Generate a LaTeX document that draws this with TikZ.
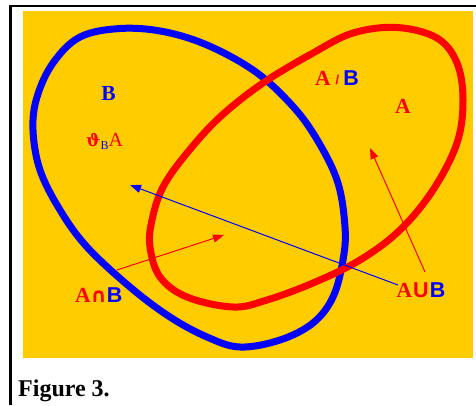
\documentclass[tikz,border=0pt]{standalone}
\usepackage{fontspec}
\setmainfont{Liberation Serif}
\newfontfamily\arialfont{Liberation Sans}
\newfontfamily\djsans{DejaVu Sans}
\newfontfamily\djserif{DejaVu Serif}
\usetikzlibrary{arrows.meta}
\definecolor{bgyellow}{HTML}{FFCC00}
\definecolor{cred}{HTML}{FF0000}
\definecolor{cblue}{HTML}{0000FF}
\tikzset{
  setline/.style={line width=7pt, line join=round},
  ptr/.style={line width=1pt, -{Triangle[length=11pt,width=8pt]}},
  lbl/.style={inner sep=0pt, font=\fontsize{21.5}{22}\selectfont\bfseries},
}
\begin{document}
\begin{tikzpicture}[x=1pt,y=-1pt]
\useasboundingbox (0,0) rectangle (476,405);
% frame
\draw[line width=2.3pt] (10.5,405) -- (10.5,6) -- (476,6);
% background
\fill[bgyellow] (23,11) rectangle (473,358);
% set B (blue)
\draw[cblue, setline] plot[smooth cycle, tension=0.6] coordinates {
 (120,28.5) (80,37) (53,63) (37,97) (33,130) (40,170) (60,210) (87,247)
 (130,287) (170,317) (207,337) (240,347) (280,340) (313,323) (333,297)
 (343,260) (345,227) (337,180) (313,133) (287,100) (253,70) (207,45) (163,31.5)};
% set A (red)
\draw[cred, setline] plot[smooth cycle, tension=0.6] coordinates {
 (397,27.5) (437,38) (457,63) (463,100) (457,143) (433,190) (400,230)
 (360,260) (313,283) (267,300) (233,307) (187,297) (160,277) (150,247)
 (152,220) (163,187) (187,153) (220,117) (263,83) (313,53) (353,33)};
% labels
\node[lbl, text=cblue] (b) at (108.5,93) {B};
\node[inner sep=0pt, anchor=west, font=\fontsize{20}{22}\selectfont] (theta) at (86,141.5)
  {\textcolor{cred}{\djserif\bfseries\fontsize{17}{17}\selectfont ϑ}\textcolor{cblue}{\fontsize{12}{12}\selectfont\raisebox{-3pt}{B}}\textcolor{cred}{A}};
\node[lbl, anchor=west] (adiff) at (315,78)
  {\textcolor{cred}{A}\hspace{5pt}\textcolor{cred}{\arialfont\fontsize{13}{13}\selectfont\raisebox{1pt}{/}}\hspace{4pt}\textcolor{cblue}{\arialfont B}};
\node[lbl, text=cred] (a) at (403,106) {A};
\node[lbl, anchor=west] (cap) at (75,295.5)
  {\textcolor{cred}{A}\textcolor{cred}{\djsans\bfseries\fontsize{20}{20}\selectfont ∩}\textcolor{cblue}{\arialfont B}};
\node[lbl, anchor=west] (cup) at (396.5,290.5)
  {\textcolor{cred}{A}\hspace{1pt}\textcolor{cred}{\arialfont U}\hspace{1pt}\textcolor{cblue}{\arialfont B}};
% arrows
\coordinate (bluestart) at (398,285);
\coordinate (bluetip) at (130,185);
\coordinate (capstart) at (117,270);
\coordinate (captip) at (224,235);
\coordinate (cupstart) at (425,272);
\coordinate (cuptip) at (370,148);
\draw[ptr, cblue] (bluestart) -- (bluetip);
\draw[ptr, cred] (capstart) -- (captip);
\draw[ptr, cred] (cupstart) -- (cuptip);
% caption
\node[inner sep=0pt, anchor=base west, font=\fontsize{24}{26}\selectfont\bfseries] (fig) at (18,396) {Figure 3.};
\end{tikzpicture}
\end{document}
